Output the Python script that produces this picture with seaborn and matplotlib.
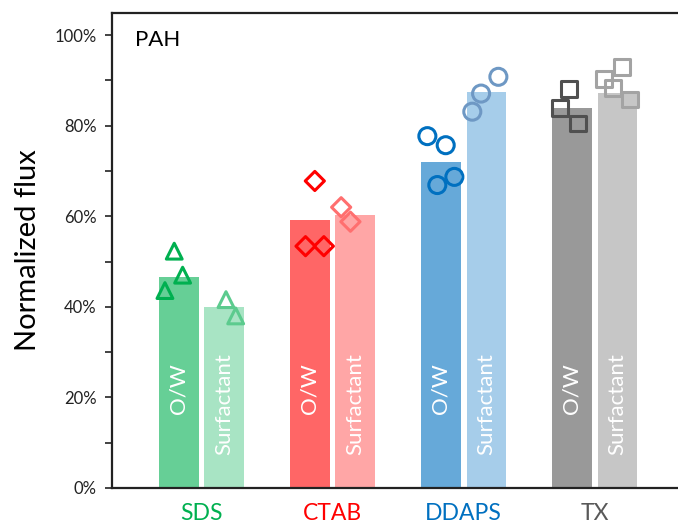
import numpy as np
import pandas as pd
import matplotlib
matplotlib.use("Agg")
import matplotlib.pyplot as plt
import seaborn as sns
from matplotlib.ticker import MultipleLocator, PercentFormatter

# ---------------- data ----------------
groups = ["SDS", "CTAB", "DDAPS", "TX"]
types = ["O/W", "Surfactant"]
bar_ow = [46.7, 59.2, 71.9, 84.0]
bar_surf = [40.0, 60.2, 87.5, 87.3]

pts_ow = [
    [43.6, 52.3, 47.0],
    [53.4, 67.8, 53.4],
    [77.7, 66.9, 75.7, 68.7],
    [84.0, 88.2, 80.5],
]
pts_surf = [
    [41.6, 38.0],
    [62.0, 58.8],
    [83.1, 87.1, 90.8],
    [90.3, 88.4, 92.9, 85.8],
]
# horizontal jitter slots of the replicate points (fraction of group spacing)
jit_ow = [
    [-0.279, -0.208, -0.144],
    [-0.206, -0.135, -0.066],
    [-0.276, -0.200, -0.136, -0.070],
    [-0.263, -0.195, -0.128],
]
jit_surf = [
    [0.187, 0.261],
    [0.066, 0.137],
    [0.067, 0.134, 0.266],
    [0.073, 0.139, 0.208, 0.271],
]

# ---------------- styles ----------------
label_colors = ["#00B050", "#FF0000", "#0070C0", "#595959"]
bar_colors_ow = ["#66CF96", "#FF6666", "#66A9D9", "#999999"]
bar_colors_surf = ["#A8E4C4", "#FFA6A6", "#A6CDEA", "#C6C6C6"]
mk_colors_ow = ["#00B050", "#FF0000", "#0070C0", "#505050"]
mk_colors_surf = ["#5CCB8E", "#FF6F6F", "#6E98C4", "#A3A3A3"]
markers = ["^", "D", "o", "s"]
msizes = [130, 95, 150, 130]

FONT = ["Lato", "DejaVu Sans"]

sns.set_theme(style="white")
plt.rcParams["font.family"] = FONT

df = pd.DataFrame({
    "group": groups * 2,
    "type": [types[0]] * 4 + [types[1]] * 4,
    "value": bar_ow + bar_surf,
})

fig = plt.figure(figsize=(6.78, 5.25), dpi=100)
ax = fig.add_axes([0.1652, 0.0705, 0.8348, 0.9048])

sns.barplot(data=df, x="group", y="value", hue="type", order=groups,
            hue_order=types, errorbar=None, width=0.7, gap=0.13,
            legend=False, ax=ax, linewidth=0, saturation=1)

patches = sorted(ax.patches, key=lambda p: p.get_x())
for i, p in enumerate(patches):
    g, k = divmod(i, 2)
    p.set_facecolor(bar_colors_ow[g] if k == 0 else bar_colors_surf[g])
    p.set_edgecolor("none")

for gi in range(len(groups)):
    for vals, jit, col in ((pts_ow[gi], jit_ow[gi], mk_colors_ow[gi]),
                           (pts_surf[gi], jit_surf[gi], mk_colors_surf[gi])):
        xs = [gi + j for j in jit]
        sns.scatterplot(x=xs, y=vals, ax=ax, marker=markers[gi], s=msizes[gi],
                        facecolors="none", edgecolor=col, linewidth=2.2,
                        zorder=5, legend=False)

# bar labels
for gi in range(len(groups)):
    ax.text(gi - 0.175, 21.9, "O/W", rotation=90, ha="center", va="center",
            color="white", fontsize=16, family=FONT)
    ax.text(gi + 0.175, 18.5, "Surfactant", rotation=90, ha="center",
            va="center", color="white", fontsize=16, family=FONT)

ax.set_xlim(-0.683, 3.637)
ax.set_ylim(0, 104.9)
ax.yaxis.set_major_locator(MultipleLocator(20))
ax.yaxis.set_minor_locator(MultipleLocator(10))
ax.yaxis.set_major_formatter(PercentFormatter(decimals=0))
ax.tick_params(axis="y", which="both", direction="out", length=5, width=1.2,
               color="#222222", left=True, labelsize=12, pad=6,
               labelcolor="#222222")
ax.tick_params(axis="x", length=0, pad=11, labelsize=16.5)
for lab, c in zip(ax.get_xticklabels(), label_colors):
    lab.set_color(c)

ax.set_xlabel("")
ax.set_ylabel("Normalized flux", fontsize=21, color="black", labelpad=10)

for s in ["left", "bottom", "top"]:
    ax.spines[s].set_visible(True)
    ax.spines[s].set_color("#222222")
    ax.spines[s].set_linewidth(1.6)
ax.spines["right"].set_visible(False)

ax.text(0.04, 0.965, "PAH", transform=ax.transAxes, ha="left", va="top",
        fontsize=16, color="black")

fig.savefig("out.png", dpi=100)
